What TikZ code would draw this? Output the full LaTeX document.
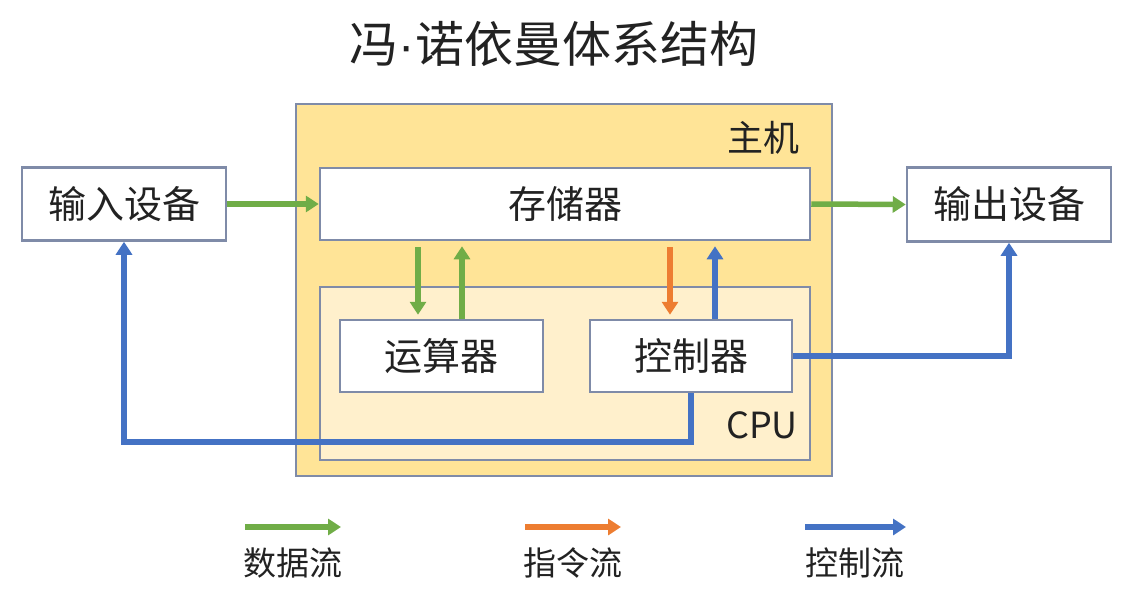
\documentclass[tikz,border=0pt]{standalone}
\usepackage{fontspec}
\newfontfamily\cjk{Noto Sans CJK SC}
\newfontfamily\latindot{Liberation Sans}
\usetikzlibrary{arrows.meta}
\definecolor{gflow}{HTML}{70AD47}
\definecolor{oflow}{HTML}{ED7D31}
\definecolor{bflow}{HTML}{4472C4}
\definecolor{boxline}{HTML}{7F8BA8}
\definecolor{hostfill}{HTML}{FFE497}
\definecolor{cpufill}{HTML}{FFF0CC}
\definecolor{txt}{HTML}{222222}
\tikzset{
  unit/.style={draw=boxline, line width=2.5pt, fill=white, text=txt,
    font=\cjk\fontsize{38}{40}\selectfont, inner sep=0pt},
  region/.style={draw=boxline, line width=2.5pt, inner sep=0pt},
  tag/.style={text=txt, font=\cjk\fontsize{36}{40}\selectfont, inner sep=0pt},
  flow/.style={line width=5.5pt, -{Triangle[width=16pt,length=13pt]}},
  gline/.style={flow, draw=gflow},
  oline/.style={flow, draw=oflow},
  bline/.style={flow, draw=bflow},
  legendtext/.style={text=txt, font=\cjk\fontsize{33}{36}\selectfont, inner sep=0pt}
}
\begin{document}
\begin{tikzpicture}[x=1pt,y=-1pt]
\useasboundingbox[fill=white] (0,0) rectangle (1146,597);
% title
\node[text=txt, font=\cjk\fontsize{49}{52}\selectfont, inner sep=0pt] (title) at (554,44) {冯{\latindot ·}诺依曼体系结构};
% host and CPU regions
\node[region, fill=hostfill, minimum width=536pt, minimum height=372pt] (host) at (564,290) {};
\node[tag, anchor=east] (hostlbl) at (800,138) {主机};
\node[region, fill=cpufill, minimum width=490pt, minimum height=173pt] (cpu) at (565,373.5) {};
\node[tag, anchor=east] (cpulbl) at (798,425) {CPU};
% units
\node[unit, minimum width=490pt, minimum height=72pt] (mem) at (565,204) {存储器};
\node[unit, minimum width=203pt, minimum height=72pt] (alu) at (441.5,356) {运算器};
\node[unit, minimum width=202pt, minimum height=72pt] (ctrl) at (691,356) {控制器};
\node[unit, minimum width=204pt, minimum height=73pt] (in) at (124,204) {输入设备};
\node[unit, minimum width=204pt, minimum height=74pt] (out) at (1009,204.5) {输出设备};
% data flows
\draw[gline] (in.east) -- (mem.west);
\draw[gline] (mem.east) -- (out.west);
\draw[gline, shorten <=6pt, shorten >=4pt] ([xshift=-23.5pt]mem.south -| alu.north) -- ([xshift=-23.5pt]alu.north);
\draw[gline, shorten <=0pt, shorten >=5pt] ([xshift=20.5pt]alu.north) -- ([xshift=20.5pt]mem.south -| alu.north);
% instruction flow
\draw[oline, shorten <=6pt, shorten >=4pt] ([xshift=-21pt]mem.south -| ctrl.north) -- ([xshift=-21pt]ctrl.north);
% control flows
\draw[bline, shorten >=5pt] ([xshift=24pt]ctrl.north) -- ([xshift=24pt]mem.south -| ctrl.north);
\draw[bline] (ctrl.east) -| (out.south);
\coordinate (cbend) at (400,442);
\draw[bline] (ctrl.south) |- (cbend) -| (in.south);
% legend
\coordinate (g1) at (245,527); \coordinate (g2) at (341,527);
\coordinate (o1) at (525,527); \coordinate (o2) at (621,527);
\coordinate (b1) at (805,527); \coordinate (b2) at (906,527);
\draw[gline] (g1) -- (g2);
\draw[oline] (o1) -- (o2);
\draw[bline] (b1) -- (b2);
\node[legendtext] (lg) at (293,563) {数据流};
\node[legendtext] (lo) at (573,563) {指令流};
\node[legendtext] (lb) at (855,563) {控制流};
\end{tikzpicture}
\end{document}
